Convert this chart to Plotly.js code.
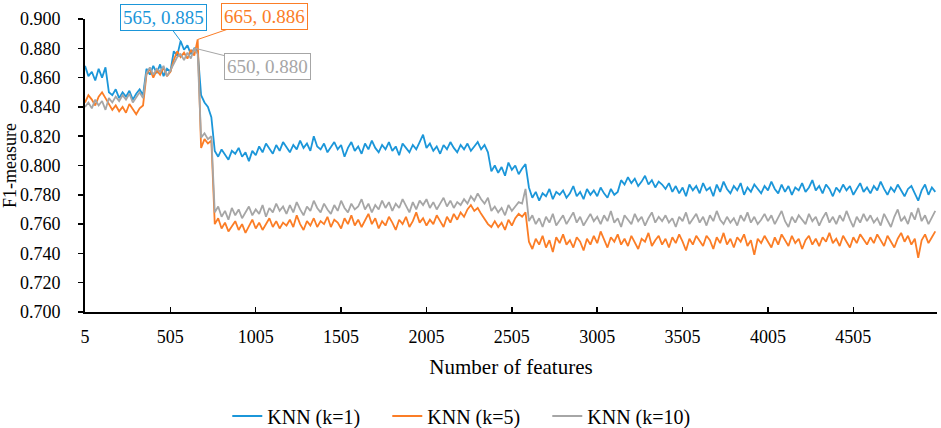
<!DOCTYPE html>
<html>
<head>
<meta charset="utf-8">
<script src="https://cdn.plot.ly/plotly-3.0.1.min.js"></script>
<style>html,body{margin:0;padding:0;background:#fff;}#chart{width:941px;height:428px;}</style>
</head>
<body>
<div id="chart"></div>
<script>
// Number of features: 5, 25, 45, ... (sampled every 20 features)
const featureStart = 5;
const featureStep = 20;

const seriesNames = ['KNN (k=1)', 'KNN (k=5)', 'KNN (k=10)'];

const knn1 = [
0.868,0.861,0.864,0.858,0.866,0.860,0.867,0.850,0.848,0.852,
0.846,0.850,0.847,0.851,0.845,0.849,0.852,0.848,0.866,0.862,
0.868,0.863,0.869,0.861,0.866,0.864,0.878,0.875,0.885,0.879,
0.882,0.876,0.880,0.878,0.848,0.843,0.840,0.833,0.810,0.806,
0.811,0.807,0.804,0.810,0.808,0.812,0.806,0.809,0.803,0.810,
0.807,0.813,0.809,0.815,0.811,0.808,0.814,0.810,0.816,0.812,
0.809,0.814,0.811,0.817,0.812,0.815,0.810,0.820,0.813,0.811,
0.815,0.809,0.813,0.816,0.811,0.814,0.806,0.812,0.816,0.810,
0.813,0.808,0.815,0.811,0.817,0.812,0.809,0.814,0.811,0.816,
0.810,0.813,0.807,0.815,0.812,0.809,0.814,0.811,0.816,0.821,
0.812,0.815,0.810,0.813,0.808,0.814,0.811,0.816,0.812,0.809,
0.814,0.811,0.815,0.810,0.813,0.816,0.811,0.814,0.809,0.796,
0.800,0.795,0.799,0.793,0.802,0.797,0.800,0.794,0.798,0.801,
0.785,0.778,0.782,0.776,0.781,0.779,0.784,0.777,0.782,0.780,
0.783,0.778,0.781,0.786,0.779,0.782,0.777,0.784,0.780,0.783,
0.779,0.785,0.781,0.778,0.784,0.780,0.782,0.790,0.787,0.792,
0.788,0.791,0.786,0.789,0.793,0.787,0.790,0.785,0.789,0.787,
0.784,0.788,0.782,0.786,0.781,0.785,0.779,0.787,0.783,0.786,
0.781,0.788,0.783,0.785,0.779,0.787,0.782,0.789,0.784,0.781,
0.786,0.783,0.788,0.780,0.785,0.782,0.787,0.784,0.781,0.786,
0.783,0.789,0.784,0.781,0.787,0.782,0.786,0.780,0.785,0.783,
0.788,0.782,0.785,0.790,0.783,0.786,0.781,0.787,0.784,0.779,
0.785,0.782,0.787,0.783,0.786,0.780,0.784,0.788,0.782,0.785,
0.781,0.786,0.783,0.789,0.784,0.780,0.785,0.782,0.787,0.783,
0.779,0.784,0.786,0.781,0.776,0.783,0.787,0.780,0.785,0.782
];

const knn5 = [
0.843,0.848,0.845,0.841,0.847,0.850,0.846,0.842,0.838,0.841,
0.837,0.840,0.836,0.842,0.838,0.835,0.839,0.841,0.862,0.866,
0.860,0.865,0.862,0.867,0.861,0.864,0.872,0.878,0.874,0.877,
0.873,0.879,0.875,0.886,0.812,0.818,0.815,0.817,0.760,0.764,
0.757,0.761,0.755,0.759,0.762,0.756,0.760,0.754,0.758,0.763,
0.757,0.761,0.756,0.760,0.764,0.758,0.762,0.757,0.761,0.759,
0.763,0.758,0.766,0.760,0.756,0.762,0.759,0.764,0.758,0.762,
0.760,0.765,0.758,0.763,0.761,0.757,0.764,0.760,0.766,0.759,
0.763,0.758,0.762,0.767,0.760,0.764,0.757,0.762,0.759,0.765,
0.761,0.756,0.763,0.760,0.765,0.758,0.762,0.768,0.761,0.764,
0.759,0.763,0.760,0.766,0.762,0.758,0.765,0.761,0.767,0.763,
0.768,0.765,0.770,0.773,0.769,0.771,0.767,0.763,0.760,0.758,
0.762,0.758,0.761,0.756,0.763,0.759,0.764,0.767,0.765,0.768,
0.748,0.743,0.750,0.746,0.752,0.744,0.749,0.741,0.751,0.747,
0.753,0.746,0.749,0.744,0.751,0.748,0.742,0.750,0.746,0.752,
0.747,0.755,0.749,0.744,0.751,0.748,0.753,0.746,0.750,0.745,
0.752,0.747,0.743,0.750,0.748,0.754,0.745,0.749,0.752,0.746,
0.750,0.744,0.751,0.747,0.753,0.748,0.742,0.750,0.746,0.752,
0.748,0.745,0.752,0.749,0.743,0.751,0.747,0.754,0.746,0.750,
0.744,0.751,0.748,0.753,0.745,0.749,0.739,0.750,0.747,0.752,
0.748,0.744,0.751,0.746,0.753,0.749,0.745,0.752,0.747,0.750,
0.743,0.749,0.752,0.746,0.750,0.745,0.751,0.748,0.754,0.747,
0.750,0.745,0.752,0.748,0.744,0.751,0.747,0.753,0.749,0.746,
0.751,0.747,0.753,0.749,0.745,0.752,0.748,0.744,0.750,0.754,
0.748,0.752,0.746,0.750,0.737,0.749,0.753,0.747,0.751,0.755
];

const knn10 = [
0.840,0.843,0.839,0.845,0.841,0.844,0.838,0.846,0.843,0.847,
0.844,0.848,0.845,0.849,0.843,0.847,0.850,0.846,0.863,0.867,
0.862,0.866,0.864,0.868,0.861,0.865,0.870,0.874,0.876,0.872,
0.877,0.873,0.880,0.876,0.819,0.822,0.818,0.820,0.768,0.772,
0.765,0.769,0.763,0.771,0.766,0.770,0.764,0.768,0.772,0.766,
0.770,0.767,0.773,0.765,0.771,0.768,0.774,0.769,0.772,0.767,
0.773,0.768,0.775,0.770,0.766,0.772,0.769,0.776,0.771,0.768,
0.774,0.770,0.767,0.773,0.769,0.776,0.771,0.768,0.774,0.770,
0.772,0.777,0.770,0.774,0.768,0.773,0.770,0.776,0.771,0.775,
0.769,0.774,0.771,0.777,0.772,0.768,0.775,0.770,0.776,0.773,
0.777,0.771,0.775,0.770,0.774,0.778,0.772,0.776,0.771,0.775,
0.773,0.777,0.774,0.779,0.776,0.781,0.777,0.774,0.778,0.769,
0.772,0.768,0.771,0.766,0.773,0.769,0.772,0.775,0.774,0.784,
0.762,0.766,0.760,0.764,0.758,0.765,0.761,0.767,0.759,0.763,
0.766,0.760,0.764,0.768,0.761,0.765,0.759,0.763,0.767,0.762,
0.765,0.760,0.766,0.762,0.769,0.761,0.764,0.758,0.766,0.763,
0.760,0.767,0.762,0.765,0.759,0.764,0.768,0.761,0.765,0.762,
0.766,0.761,0.764,0.758,0.765,0.762,0.768,0.760,0.764,0.767,
0.761,0.765,0.759,0.766,0.762,0.769,0.763,0.760,0.765,0.761,
0.764,0.759,0.766,0.762,0.768,0.761,0.765,0.760,0.763,0.767,
0.762,0.766,0.760,0.764,0.769,0.762,0.758,0.765,0.761,0.766,
0.763,0.760,0.767,0.762,0.765,0.759,0.764,0.768,0.761,0.765,
0.760,0.766,0.762,0.769,0.763,0.758,0.765,0.761,0.767,0.762,
0.766,0.761,0.764,0.759,0.767,0.763,0.758,0.765,0.770,0.762,
0.765,0.760,0.768,0.763,0.771,0.762,0.766,0.760,0.764,0.769
];

const xTickValues = [5, 505, 1005, 1505, 2005, 2505, 3005, 3505, 4005, 4505, 4995];
const xTickLabels = ['5', '505', '1005', '1505', '2005', '2505', '3005', '3505', '4005', '4505', ''];

// Callouts: [feature, value, label]
const calloutBlue = [565, 0.885, '565, 0.885'];
const calloutOrange = [665, 0.886, '665, 0.886'];
const calloutGray = [650, 0.880, '650, 0.880'];

const colors = ['#1b96d9', '#fb7d26', '#a6a6a6'];
const FONT = '"Liberation Serif", "Times New Roman", serif';

const traces = [knn1, knn5, knn10].map((vals, i) => ({
  type: 'scatter',
  mode: 'lines',
  name: seriesNames[i],
  x0: featureStart,
  dx: featureStep,
  y: vals,
  line: {color: colors[i], width: 1.8}
}));

function callout(c, color, ax, ay) {
  return {
    x: c[0], y: c[1], xref: 'x', yref: 'y',
    text: c[2],
    showarrow: true, arrowhead: 0, arrowwidth: 1, arrowcolor: color,
    ax: ax, ay: ay, standoff: 0,
    font: {family: FONT, size: 19, color: color},
    bordercolor: color, borderwidth: 1, borderpad: 2, bgcolor: '#ffffff'
  };
}

const layout = {
  width: 941, height: 428,
  margin: {l: 85, r: 4, t: 19, b: 116, autoexpand: false},
  paper_bgcolor: '#ffffff', plot_bgcolor: '#ffffff',
  font: {family: FONT, size: 18, color: '#000'},
  showlegend: true,
  legend: {
    orientation: 'h', xref: 'paper', x: 0.167, xanchor: 'left',
    yref: 'container', y: 0.028, yanchor: 'middle',
    font: {family: FONT, size: 20, color: '#000'},
    itemwidth: 30, entrywidth: 115, entrywidthmode: 'pixels'
  },
  xaxis: {
    range: [5, 4995],
    tickmode: 'array', tickvals: xTickValues, ticktext: xTickLabels,
    ticks: 'inside', ticklen: 5, tickwidth: 1.5, tickcolor: '#000',
    ticklabelstandoff: 7,
    showline: true, linecolor: '#000', linewidth: 2,
    showgrid: false, zeroline: false,
    tickfont: {family: FONT, size: 18, color: '#000'},
    title: {text: 'Number of features', font: {family: FONT, size: 21, color: '#000'}, standoff: 14}
  },
  yaxis: {
    range: [0.7, 0.9],
    tickmode: 'linear', tick0: 0.7, dtick: 0.02, tickformat: '.3f',
    ticks: 'outside', ticklen: 5, tickwidth: 1.5, tickcolor: '#000',
    ticklabelstandoff: 14,
    showline: true, linecolor: '#000', linewidth: 2,
    showgrid: false, zeroline: false,
    tickfont: {family: FONT, size: 18, color: '#000'},
    title: {text: 'F1-measure', font: {family: FONT, size: 18, color: '#000'}, standoff: 2}
  },
  annotations: [
    callout(calloutBlue, colors[0], -17, -23),
    callout(calloutOrange, colors[1], 67, -23),
    callout(calloutGray, colors[2], 72, 18)
  ]
};

Plotly.newPlot('chart', traces, layout, {displayModeBar: false, staticPlot: true});
</script>
</body>
</html>
